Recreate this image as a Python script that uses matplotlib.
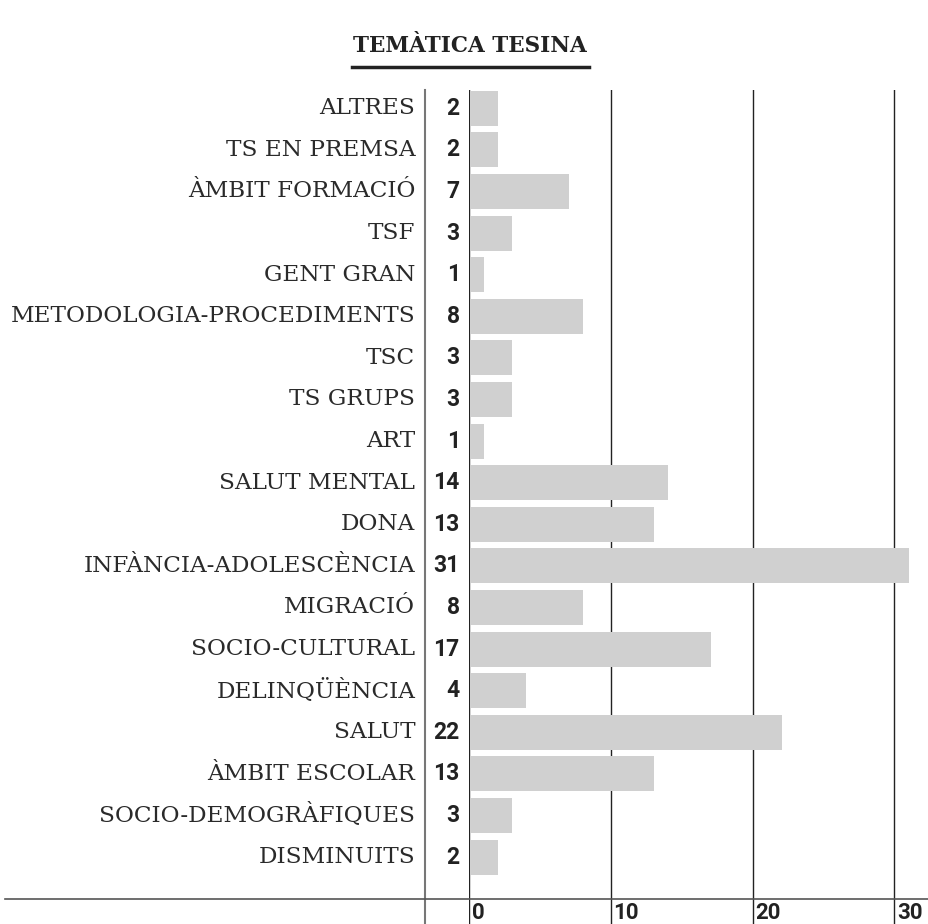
import matplotlib.pyplot as plt
from matplotlib.lines import Line2D

# dades (de dalt a baix)
temes = ['ALTRES', 'TS EN PREMSA', 'ÀMBIT FORMACIÓ', 'TSF', 'GENT GRAN',
         'METODOLOGIA-PROCEDIMENTS', 'TSC', 'TS GRUPS', 'ART', 'SALUT MENTAL',
         'DONA', 'INFÀNCIA-ADOLESCÈNCIA', 'MIGRACIÓ', 'SOCIO-CULTURAL',
         'DELINQÜÈNCIA', 'SALUT', 'ÀMBIT ESCOLAR', 'SOCIO-DEMOGRÀFIQUES',
         'DISMINUITS']
valors = [2, 2, 7, 3, 1, 8, 3, 3, 1, 14, 13, 31, 8, 17, 4, 22, 13, 3, 2]
ticks = [0, 10, 20, 30]

W, H = 929, 924
fig = plt.figure(figsize=(W / 100, H / 100), dpi=100)

# eix de les barres: x=469..929 px, y=0..834 px des de dalt 90
ax = fig.add_axes([469 / W, 0, (W - 469) / W, (H - 90) / H])
n = len(temes)
ypos = list(range(n - 1, -1, -1))
ax.set_xlim(0, 32.45)
ax.set_ylim(-1.61, n - 1 + 0.44)
ax.barh(ypos, valors, left=0.05, height=0.84, color='#d0d0d0', zorder=3)
for t in ticks:
    ax.axvline(t, color='#222222', lw=1.0, zorder=1)
    ax.text(t + 0.2, -1.35, str(t), ha='left', va='center', fontsize=16,
            fontweight='bold', family='Roboto', color='#222222')
for s in ax.spines.values():
    s.set_visible(False)
ax.set_xticks([])
ax.set_yticks([])

tr = ax.get_yaxis_transform()
for y, nom, v in zip(ypos, temes, valors):
    ax.text(-0.117, y, nom, transform=tr, ha='right', va='center',
            fontsize=16.7, family='DejaVu Serif',
            color='#2a2a2a', clip_on=False)
    ax.text(-0.02, y, str(v), transform=tr, ha='right', va='center',
            fontsize=16.5, family='Roboto', fontweight='bold', color='#222222',
            clip_on=False)

# línies de separació
fig.add_artist(Line2D([425 / W, 425 / W], [0, 1 - 90 / H], color='#777777', lw=1.5))
fig.add_artist(Line2D([5 / W, 1], [1 - 899 / H, 1 - 899 / H], color='#555555', lw=1.2))

# títol subratllat
fig.text(470 / W, 1 - 46 / H, 'TEMÀTICA TESINA', ha='center', va='center',
         fontsize=15.5, fontweight='bold', family='DejaVu Serif', color='#222222')
fig.add_artist(Line2D([352 / W, 589 / W], [1 - 67 / H, 1 - 67 / H],
                      color='#222222', lw=2.5))

fig.savefig('out.png', dpi=100, facecolor='white')
